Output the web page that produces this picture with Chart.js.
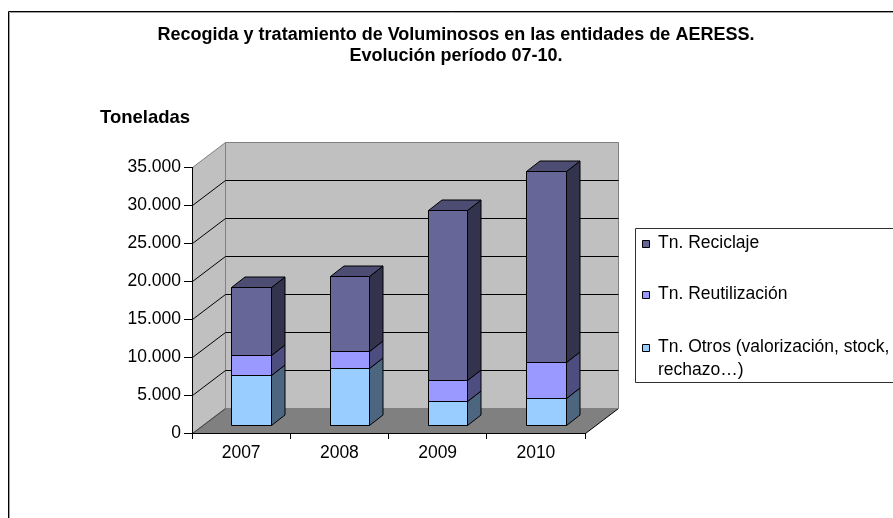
<!DOCTYPE html>
<html><head><meta charset="utf-8">
<script src="https://cdn.jsdelivr.net/npm/chart.js@4/dist/chart.umd.min.js"></script>
<style>html,body{margin:0;padding:0;background:#fff;}#wrap{width:893px;height:518px;position:relative;overflow:hidden;}</style>
</head><body><div id="wrap"><canvas id="c" width="893" height="518"></canvas></div>
<script>
// ---- data ----
const years = ['2007', '2008', '2009', '2010'];
const otros = [6700, 7600, 3250, 3650];
const reutilizacion = [2550, 2230, 2760, 4680];
const reciclaje = [8950, 9820, 22400, 25180];
const seriesLabels = ['Tn. Otros (valorización, stock, rechazo…)', 'Tn. Reutilización', 'Tn. Reciclaje'];
const yTicks = [0, 5000, 10000, 15000, 20000, 25000, 30000, 35000];
const titleLines = ['Recogida y tratamiento de Voluminosos en las entidades de AERESS.', 'Evolución período 07-10.'];
const yAxisTitle = 'Toneladas';

// ---- styles ----
const frontColors = ['#99CCFF', '#9999FF', '#666699'];
const FONT = '"Liberation Sans", Arial, sans-serif';

function shade(hex, f) {
  const n = parseInt(hex.slice(1), 16);
  const r = Math.round(((n >> 16) & 255) * f), g = Math.round(((n >> 8) & 255) * f), b = Math.round((n & 255) * f);
  return 'rgb(' + r + ',' + g + ',' + b + ')';
}
function fmt(v) { return String(v).replace(/\B(?=(\d{3})+(?!\d))/g, '.'); }
function poly(ctx, pts, fill, stroke) {
  ctx.beginPath();
  pts.forEach((p, i) => { const x = p[0] + 0.5, y = p[1] + 0.5; i ? ctx.lineTo(x, y) : ctx.moveTo(x, y); });
  ctx.closePath();
  if (fill) { ctx.fillStyle = fill; ctx.fill(); }
  if (stroke) { ctx.strokeStyle = stroke; ctx.lineWidth = 1; ctx.stroke(); }
}
function seg(ctx, x1, y1, x2, y2, color) {
  ctx.beginPath(); ctx.moveTo(x1 + 0.5, y1 + 0.5); ctx.lineTo(x2 + 0.5, y2 + 0.5);
  ctx.strokeStyle = color; ctx.lineWidth = 1; ctx.stroke();
}

const WDX = 33, WDY = 25;          // wall depth
const OX = 10, OY = 7.5;           // bar front offset into depth
const BX = 13.5, BY = 10.5;        // bar depth

const threeD = {
  id: 'threeD',
  beforeDraw(chart) {
    const ctx = chart.ctx, a = chart.chartArea, y = chart.scales.y;
    ctx.save();
    ctx.fillStyle = '#fff'; ctx.fillRect(0, 0, chart.width, chart.height);
    // outer frame
    seg(ctx, 8, 11, chart.width, 11, '#000');
    seg(ctx, 8, 11, 8, chart.height, '#000');
    seg(ctx, 9, 12, chart.width, 12, '#a0a0a0');
    seg(ctx, 9, 12, 9, chart.height, '#a0a0a0');
    const L = Math.round(a.left), R = Math.round(a.right);
    const T = Math.round(y.getPixelForValue(yTicks[yTicks.length - 1])), B = Math.round(y.getPixelForValue(0));
    // floor
    poly(ctx, [[L, B], [R, B], [R + WDX, B - WDY], [L + WDX, B - WDY]], '#808080', null);
    seg(ctx, R, B, R + WDX, B - WDY, '#000');
    seg(ctx, L, B, L + WDX, B - WDY, '#404040');
    // side wall
    poly(ctx, [[L, B], [L, T], [L + WDX, T - WDY], [L + WDX, B - WDY]], '#C0C0C0', '#808080');
    // back wall
    poly(ctx, [[L + WDX, T - WDY], [R + WDX, T - WDY], [R + WDX, B - WDY], [L + WDX, B - WDY]], '#C0C0C0', '#808080');
    seg(ctx, L, B, L + WDX, B - WDY, '#404040');
    // gridlines
    yTicks.forEach(v => {
      if (v === 0 || v === yTicks[yTicks.length - 1]) return;
      const py = Math.round(y.getPixelForValue(v));
      seg(ctx, L, py, L + WDX, py - WDY, '#000');
      seg(ctx, L + WDX, py - WDY, R + WDX, py - WDY, '#000');
    });
    ctx.restore();
  },
  beforeDatasetsDraw(chart) {
    const ctx = chart.ctx;
    const n = chart.data.datasets.length;
    ctx.save();
    for (let di = 0; di < n; di++) {
      const meta = chart.getDatasetMeta(di);
      meta.data.forEach(el => {
        const p = el.getProps(['x', 'y', 'base', 'width'], true);
        const l = Math.round(p.x - p.width / 2 + OX), r = Math.round(p.x + p.width / 2 + OX);
        const t = Math.round(p.y - OY), b = Math.round(p.base - OY);
        const col = frontColors[di];
        poly(ctx, [[l, t], [r, t], [r, b], [l, b]], col, '#000');
        poly(ctx, [[r, b], [r, t], [r + BX, t - BY], [r + BX, b - BY]], shade(col, 0.5), '#000');
        if (di === n - 1) poly(ctx, [[l, t], [r, t], [r + BX, t - BY], [l + BX, t - BY]], shade(col, 0.75), '#000');
      });
    }
    ctx.restore();
    return false;
  },
  afterDraw(chart) {
    const ctx = chart.ctx;
    ctx.save();
    ctx.fillStyle = '#000';
    ctx.textBaseline = 'middle';
    // title
    ctx.font = 'bold 18px ' + FONT;
    ctx.textAlign = 'center';
    ctx.fillText(titleLines[0], 456, 35);
    ctx.fillText(titleLines[1], 456, 56);
    // axis title
    ctx.font = 'bold 18.5px ' + FONT;
    ctx.textAlign = 'left';
    ctx.fillText(yAxisTitle, 100, 118);
    // legend
    ctx.fillStyle = '#fff';
    ctx.fillRect(635, 228, chart.width, 154);
    seg(ctx, 635, 228, chart.width, 228, '#303030');
    seg(ctx, 635, 382, chart.width, 382, '#303030');
    seg(ctx, 635, 228, 635, 382, '#303030');
    ctx.font = '17.5px ' + FONT;
    const rows = [243, 294.5, 347];
    const order = [2, 1, 0];
    order.forEach((di, k) => {
      const cy = rows[k];
      poly(ctx, [[642, Math.round(cy - 3.5)], [649, Math.round(cy - 3.5)], [649, Math.round(cy + 3.5)], [642, Math.round(cy + 3.5)]], frontColors[di], '#000');
      // wrap label
      const words = seriesLabels[di].split(' ');
      const lines = []; let cur = '';
      words.forEach(w => {
        const test = cur ? cur + ' ' + w : w;
        if (ctx.measureText(test).width > 240 && cur) { lines.push(cur); cur = w; } else cur = test;
      });
      lines.push(cur);
      ctx.fillStyle = '#000';
      lines.forEach((ln, j) => ctx.fillText(ln, 658, cy + j * 23));
    });
    ctx.restore();
  }
};

new Chart(document.getElementById('c').getContext('2d'), {
  type: 'bar',
  data: {
    labels: years,
    datasets: [
      { label: seriesLabels[0], data: otros, backgroundColor: frontColors[0] },
      { label: seriesLabels[1], data: reutilizacion, backgroundColor: frontColors[1] },
      { label: seriesLabels[2], data: reciclaje, backgroundColor: frontColors[2] }
    ]
  },
  options: {
    responsive: false,
    animation: false,
    devicePixelRatio: 1,
    layout: { padding: { left: 0, right: 308, top: 167, bottom: 0 } },
    datasets: { bar: { categoryPercentage: 1, barPercentage: 0.4 } },
    plugins: { legend: { display: false }, title: { display: false }, tooltip: { enabled: false } },
    scales: {
      x: {
        stacked: true,
        offset: true,
        grid: { offset: true, drawOnChartArea: false, drawTicks: true, tickLength: 6, color: '#000' },
        border: { display: true, color: '#000' },
        ticks: { color: '#000', font: { family: FONT, size: 17.5 }, padding: 4, maxRotation: 0 },
        afterFit: s => { s.height = 85; }
      },
      y: {
        stacked: true,
        min: yTicks[0],
        max: yTicks[yTicks.length - 1],
        grid: { drawOnChartArea: false, drawTicks: true, tickLength: 8, color: '#000' },
        border: { display: true, color: '#000' },
        ticks: { stepSize: 5000, color: '#000', font: { family: FONT, size: 17.5 }, padding: 3, callback: v => fmt(v) },
        afterFit: s => { s.width = 192; }
      }
    }
  },
  plugins: [threeD]
});
</script>
</body></html>
